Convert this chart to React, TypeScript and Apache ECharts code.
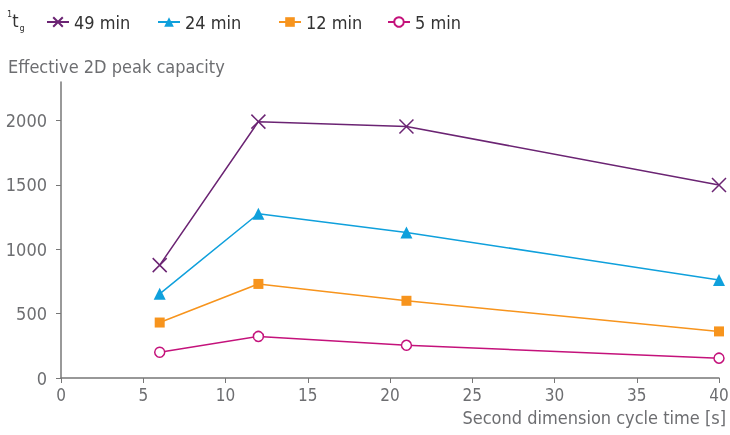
import React, { useEffect, useRef } from "react";
import * as echarts from "echarts";

const cycleTimes = [6, 12, 21, 40];
const s49 = [877, 1992, 1954, 1500];
const s24 = [654, 1277, 1131, 762];
const s12 = [431, 731, 600, 362];
const s5 = [200, 323, 254, 154];
const seriesNames = ["49 min", "24 min", "12 min", "5 min"];
const yTicks = [0, 500, 1000, 1500, 2000];

const FONT = "'Liberation Sans Narrow', 'DejaVu Sans Condensed', 'Roboto', sans-serif";
const GRAY = "#6d6e71";

export default function App() {
  const ref = useRef<HTMLDivElement>(null);
  useEffect(() => {
    const chart = echarts.init(ref.current!, null, { renderer: "svg" });
    const colors = ["#6b2473", "#0fa0dc", "#f7941d", "#c4127b"];
    const datas = [s49, s24, s12, s5];
    const symbols = ["path://M0,0L10,10M10,0L0,10", "triangle", "rect", "circle"];
    const sizes = [14, 12, 10, 10];
    const series = datas.map((d, i) => ({
      name: seriesNames[i],
      type: "line",
      data: d.map((v, j) => [cycleTimes[j], v]),
      symbol: symbols[i],
      symbolSize: sizes[i],
      showAllSymbol: true,
      lineStyle: { color: colors[i], width: 1.5 },
      itemStyle:
        i === 0
          ? { color: "none", borderColor: colors[i], borderWidth: 1.5 }
          : i === 3
          ? { color: "#fff", borderColor: colors[i], borderWidth: 1.5 }
          : { color: colors[i] },
      emphasis: { disabled: true },
    }));
    const legendLefts = [41, 152, 273, 382];
    chart.setOption({
      animation: false,
      textStyle: { fontFamily: FONT },
      grid: { left: 61, right: 11, top: 82, bottom: 57, outerBoundsMode: "none", containLabel: false },
      legend: seriesNames.map((n, i) => ({
        data: [n],
        left: legendLefts[i],
        top: 8,
        itemWidth: 22,
        itemHeight: 12,
        itemGap: 6,
        textStyle: { fontFamily: FONT, fontSize: 18, color: "#333" },
      })),
      graphic: [
        {
          type: "text",
          left: 7,
          top: 9,
          style: {
            text: "{sup|1}{t|t}{sub|g}",
            rich: {
              sup: { fontSize: 9, fontFamily: FONT, fill: "#333", verticalAlign: "top", padding: [0, 0, 10, 0] },
              t: { fontSize: 18, fontFamily: FONT, fill: "#333" },
              sub: { fontSize: 9, fontFamily: FONT, fill: "#333", padding: [14, 0, 0, 1] },
            },
          },
        },
        {
          type: "text",
          left: 8,
          top: 57,
          style: { text: "Effective 2D peak capacity", fontSize: 18, fontFamily: FONT, fill: GRAY },
        },
        {
          type: "text",
          right: 4,
          top: 408,
          style: { text: "Second dimension cycle time [s]", fontSize: 18, fontFamily: FONT, fill: GRAY },
        },
      ],
      xAxis: {
        type: "value",
        min: 0,
        max: 40,
        interval: 5,
        axisLine: { lineStyle: { color: "#777", width: 1.5 } },
        axisTick: { show: true, length: 5, lineStyle: { color: "#777" } },
        axisLabel: { fontSize: 17, color: GRAY, margin: 8 },
        splitLine: { show: false },
      },
      yAxis: {
        type: "value",
        min: 0,
        max: 2300,
        interval: 500,
        axisLine: { show: true, lineStyle: { color: "#777", width: 1.5 } },
        axisTick: { show: true, length: 5, lineStyle: { color: "#777" }, customValues: yTicks },
        axisLabel: { fontSize: 18, color: GRAY, margin: 14, customValues: yTicks, formatter: (v: number) => String(v) },
        splitLine: { show: false },
      },
      series,
    });
    return () => chart.dispose();
  }, []);
  return <div ref={ref} style={{ position: "fixed", left: 0, top: 0, width: 730, height: 435 }} />;
}
